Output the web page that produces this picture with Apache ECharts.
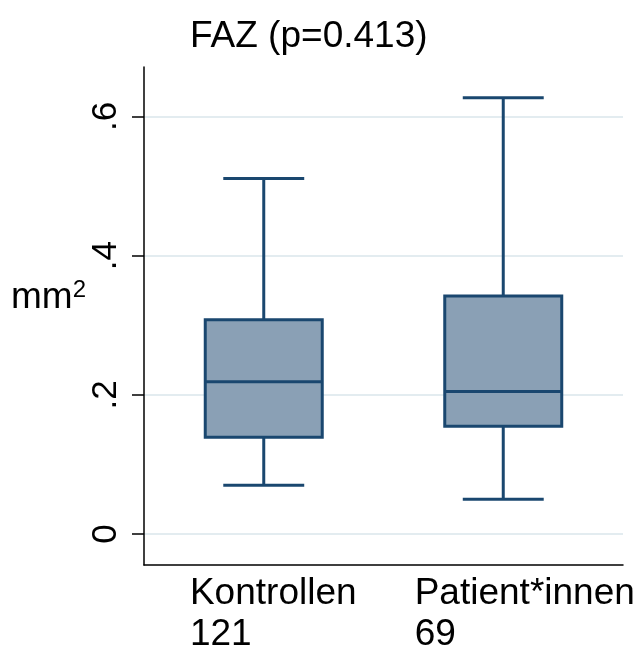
<!DOCTYPE html>
<html>
<head>
<meta charset="utf-8">
<script src="https://cdn.jsdelivr.net/npm/echarts@6/dist/echarts.min.js"></script>
<style>
html,body{margin:0;padding:0;background:#fff;}
#chart{width:644px;height:653px;}
</style>
</head>
<body>
<div id="chart"></div>
<script>
// ---- data ----
const categories = ['Kontrollen', 'Patient*innen'];
const counts = ['121', '69'];
const whiskerLow = [0.070, 0.050];
const q1 = [0.139, 0.155];
const median = [0.219, 0.205];
const q3 = [0.308, 0.342];
const whiskerHigh = [0.511, 0.627];
const yTicks = [0, 0.2, 0.4, 0.6];
const yTickLabels = ['0', '.2', '.4', '.6'];
const titleText = 'FAZ (p=0.413)';

// ---- styles ----
const NAVY = '#1a476f';
const FILL = '#8aa0b5';
const FONT = 'Liberation Sans';

const boxData = categories.map((c, i) => [i, whiskerLow[i], q1[i], median[i], q3[i], whiskerHigh[i]]);

const chart = echarts.init(document.getElementById('chart'), null, {renderer: 'canvas'});

const option = {
  animation: false,
  backgroundColor: '#fff',
  textStyle: {fontFamily: FONT},
  title: {
    text: titleText,
    left: 185,
    top: 13,
    textStyle: {fontFamily: FONT, fontSize: 37, fontWeight: 'normal', color: '#000'}
  },
  grid: {left: 144, right: 21, top: 67, bottom: 86, containLabel: false},
  xAxis: {
    type: 'category',
    data: categories,
    boundaryGap: true,
    axisLine: {show: true, onZero: false, lineStyle: {color: '#000', width: 1.5}},
    axisTick: {show: false},
    splitLine: {show: false},
    axisLabel: {
      margin: 8,
      interval: 0,
      formatter: function (value, idx) {
        return '{k' + idx + '|' + value + '}\n{k' + idx + '|' + counts[idx] + '}';
      },
      rich: {
        k0: {fontFamily: FONT, fontSize: 37, lineHeight: 41, color: '#000', align: 'left', padding: [0, 0, 0, 19]},
        k1: {fontFamily: FONT, fontSize: 37, lineHeight: 41, color: '#000', align: 'left', padding: [0, 0, 0, 43]}
      }
    }
  },
  yAxis: {
    type: 'value',
    min: -0.0444,
    max: 0.671,
    name: '{a|mm}{s|2}',
    nameLocation: 'middle',
    nameRotate: 0,
    nameGap: 58,
    nameTextStyle: {
      padding: [0, 0, 36, 0],
      rich: {
        a: {fontFamily: FONT, fontSize: 37, lineHeight: 40, color: '#000'},
        s: {fontFamily: FONT, fontSize: 24, lineHeight: 21, color: '#000', verticalAlign: 'top'}
      }
    },
    axisLine: {show: true, onZero: false, lineStyle: {color: '#000', width: 1.5}},
    axisTick: {show: true, length: 12, customValues: yTicks, lineStyle: {color: '#000', width: 1.5}},
    axisLabel: {
      customValues: yTicks,
      rotate: 90,
      margin: 20,
      fontFamily: FONT,
      fontSize: 35,
      color: '#000',
      formatter: function (v) {
        const i = yTicks.findIndex(t => Math.abs(t - v) < 1e-9);
        return i >= 0 ? yTickLabels[i] : '';
      }
    },
    splitLine: {show: true, lineStyle: {color: '#e3ecf0', width: 2}}
  },
  series: [{
    type: 'custom',
    data: boxData,
    encode: {x: 0, y: [1, 2, 3, 4, 5]},
    renderItem: function (params, api) {
      const xi = api.value(0);
      const pLow = api.coord([xi, api.value(1)]);
      const pQ1 = api.coord([xi, api.value(2)]);
      const pMed = api.coord([xi, api.value(3)]);
      const pQ3 = api.coord([xi, api.value(4)]);
      const pHigh = api.coord([xi, api.value(5)]);
      const band = api.size([1, 0])[0];
      const bw = band * 0.4885;
      const cw = band * 0.338;
      const cx = pLow[0];
      const ls = {stroke: NAVY, lineWidth: 3, fill: null};
      return {
        type: 'group',
        children: [
          {type: 'line', shape: {x1: cx, y1: pHigh[1], x2: cx, y2: pQ3[1]}, style: ls},
          {type: 'line', shape: {x1: cx, y1: pQ1[1], x2: cx, y2: pLow[1]}, style: ls},
          {type: 'line', shape: {x1: cx - cw / 2, y1: pHigh[1], x2: cx + cw / 2, y2: pHigh[1]}, style: ls},
          {type: 'line', shape: {x1: cx - cw / 2, y1: pLow[1], x2: cx + cw / 2, y2: pLow[1]}, style: ls},
          {type: 'rect', shape: {x: cx - bw / 2, y: pQ3[1], width: bw, height: pQ1[1] - pQ3[1]},
            style: {fill: FILL, stroke: NAVY, lineWidth: 3}},
          {type: 'line', shape: {x1: cx - bw / 2, y1: pMed[1], x2: cx + bw / 2, y2: pMed[1]}, style: ls}
        ]
      };
    }
  }]
};

chart.setOption(option);
</script>
</body>
</html>
